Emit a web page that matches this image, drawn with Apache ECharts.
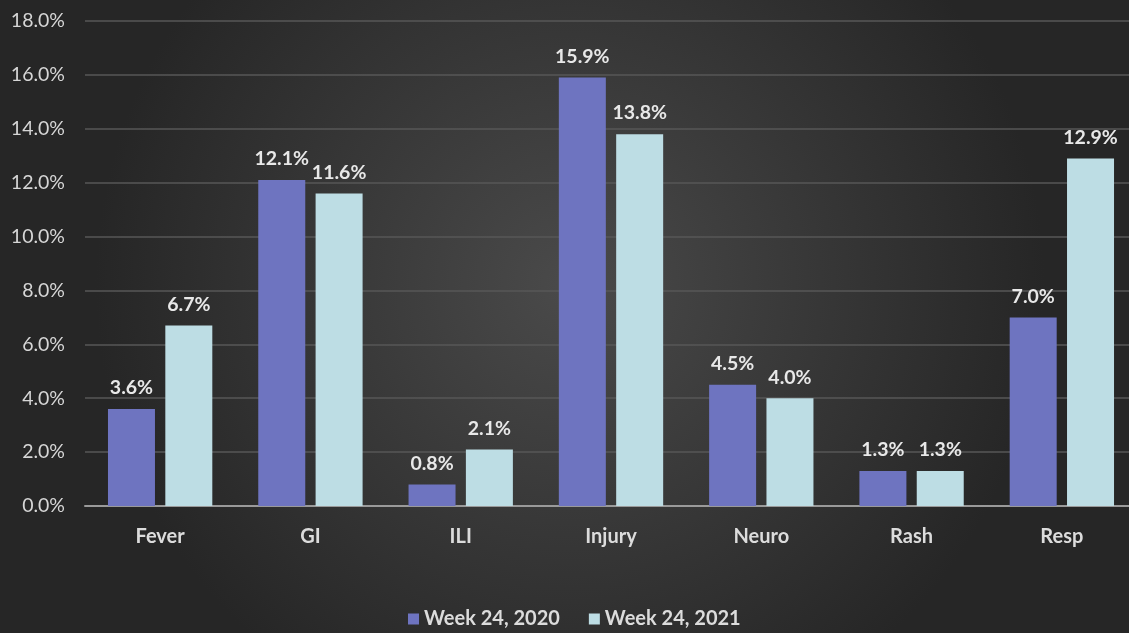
<!DOCTYPE html>
<html><head><meta charset="utf-8">
<script src="https://cdn.jsdelivr.net/npm/echarts@6/dist/echarts.min.js"></script>
<style>html,body{margin:0;padding:0;background:#333;overflow:hidden}#c{width:1140px;height:633px}</style>
</head><body><div id="c"></div>
<script>
const categories = ['Fever','GI','ILI','Injury','Neuro','Rash','Resp'];
const seriesNames = ['Week 24, 2020','Week 24, 2021'];
const week2020 = [3.6, 12.1, 0.8, 15.9, 4.5, 1.3, 7.0];
const week2021 = [6.7, 11.6, 2.1, 13.8, 4.0, 1.3, 12.9];
const colors = ['#6E74C0', '#BDDDE4'];

const chart = echarts.init(document.getElementById('c'));
const font = 'Lato, "Open Sans", sans-serif';
chart.setOption({
  backgroundColor: {
    type: 'radial', x: 0.5, y: 0.45, r: 0.75,
    colorStops: [{offset: 0, color: '#4a4a4a'}, {offset: 1, color: '#262626'}]
  },
  textStyle: {fontFamily: font},
  animation: false,
  grid: {left: 85, top: 21, width: 1052, bottom: 127, containLabel: false},
  legend: {
    left: 408, bottom: 4, padding: 0, itemWidth: 11, itemHeight: 11, itemGap: 29, icon: 'rect',
    textStyle: {color: '#dcdcdc', fontSize: 20, fontWeight: 'bold', fontFamily: font}
  },
  xAxis: {
    type: 'category', data: categories,
    axisLine: {lineStyle: {color: '#9a9a9a', width: 2}},
    axisTick: {show: false},
    axisLabel: {color: '#dcdcdc', fontSize: 20, fontWeight: 'bold', margin: 21, fontFamily: font}
  },
  yAxis: {
    type: 'value', min: 0, max: 18, interval: 2,
    axisLine: {show: false}, axisTick: {show: false},
    splitLine: {lineStyle: {color: '#575757', width: 1.5}},
    axisLabel: {color: '#d6d6d6', fontSize: 19.5, margin: 20, fontFamily: font,
      formatter: v => v.toFixed(1) + '%'}
  },
  series: [week2020, week2021].map((d, i) => ({
    name: seriesNames[i], type: 'bar', data: d,
    barWidth: 47, barGap: '22%',
    itemStyle: {color: colors[i]},
    label: {show: true, position: 'top', distance: 11, color: '#e8e8e8', fontSize: 19.5,
      fontWeight: 'bold', fontFamily: font, formatter: p => p.value.toFixed(1) + '%'}
  }))
});
</script></body></html>
